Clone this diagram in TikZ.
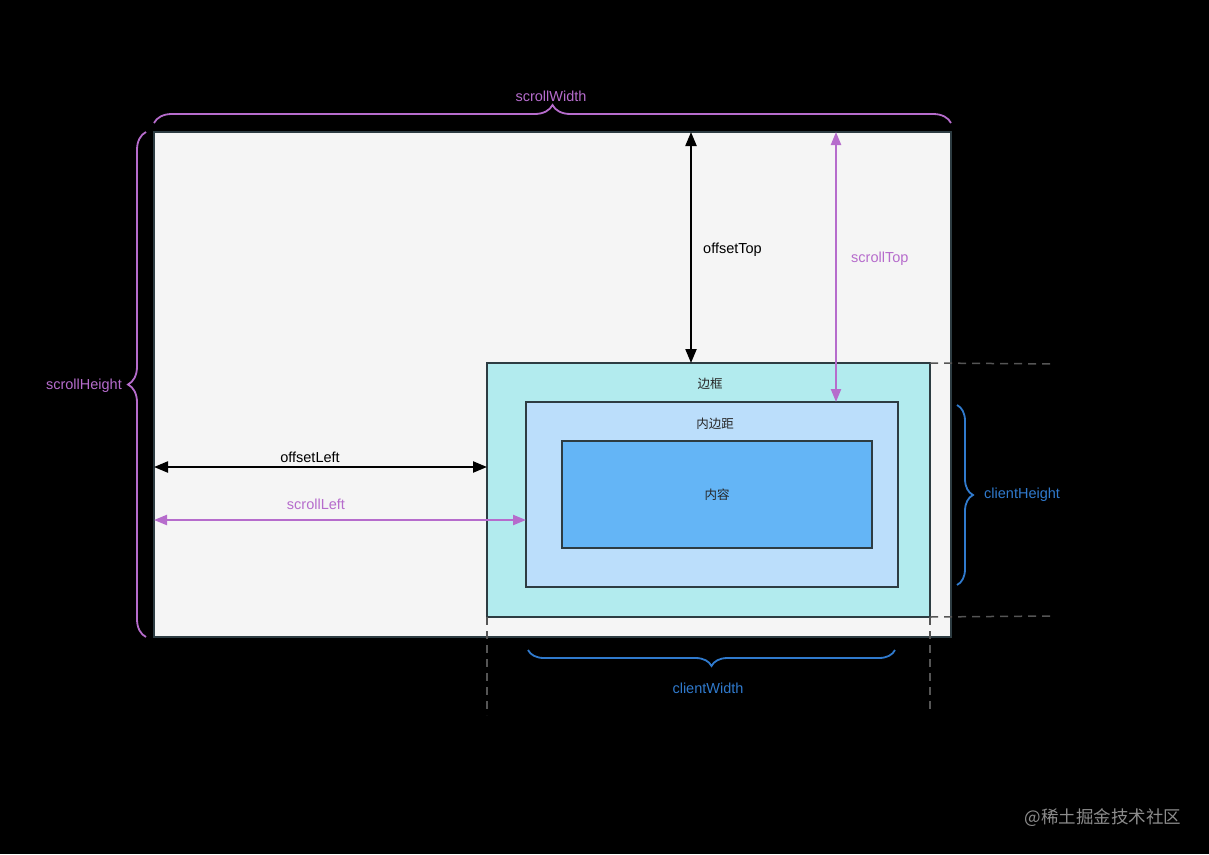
\documentclass[tikz,border=0pt]{standalone}
\usepackage{fontspec}
\setmainfont{Liberation Sans}
\newfontfamily\cjk{Noto Sans CJK SC}
\usetikzlibrary{arrows.meta,decorations.pathreplacing}
\definecolor{purp}{RGB}{182,108,204}
\definecolor{cblue}{RGB}{48,122,205}
\definecolor{edge}{RGB}{45,60,66}
\definecolor{scrollbg}{RGB}{245,245,245}
\definecolor{borderbg}{RGB}{178,235,238}
\definecolor{padbg}{RGB}{187,222,251}
\definecolor{contentbg}{RGB}{100,181,246}
\definecolor{dashc}{RGB}{85,85,85}
\tikzset{
  box/.style={draw=edge, line width=2pt, inner sep=0pt, outer sep=0pt, anchor=north west},
  lbl/.style={font=\fontsize{14.5}{17}\selectfont, inner sep=1pt},
  cjklbl/.style={font=\cjk\fontsize{12.5}{15}\selectfont, text=black!85, inner sep=1pt},
  blackarr/.style={line width=2.2pt, {Triangle[width=11pt,length=14pt]}-{Triangle[width=11pt,length=14pt]}},
  purparr/.style={purp, line width=2.2pt, {Triangle[width=10pt,length=13pt]}-{Triangle[width=10pt,length=13pt]}},
  pbrace/.style={purp, line width=1.8pt, decorate, decoration={brace, amplitude=18pt}},
  bbrace/.style={cblue, line width=1.8pt, decorate, decoration={brace, amplitude=16pt}},
  dashline/.style={dashc, line width=1.5pt, dash pattern=on 8pt off 6pt}
}
\begin{document}
\begin{tikzpicture}[x=1pt,y=-1pt]
\fill[black] (0,0) rectangle (1209,854);
\useasboundingbox (0,0) rectangle (1209,854);

% boxes
\node[box, fill=scrollbg, minimum width=797pt, minimum height=505pt] (scroll) at (154,132) {};
\node[box, fill=borderbg, minimum width=443pt, minimum height=254pt] (border) at (487,363) {};
\node[box, fill=padbg, minimum width=372pt, minimum height=185pt] (pad) at (526,402) {};
\node[box, fill=contentbg, minimum width=310pt, minimum height=107pt] (content) at (562,441) {};

\node[cjklbl] (lborder) at (710,384) {边框};
\node[cjklbl] (lpad) at (715,424) {内边距};
\node[cjklbl] (lcontent) at (717,495) {内容};

% dashed guide lines
\coordinate (dh1) at (1055,364);
\coordinate (dh2) at (1050,616);
\coordinate (dv1) at (487,715);
\coordinate (dv2) at (930,710);
\draw[dashline] (border.north east) -- (dh1);
\draw[dashline] (border.south east) -- (dh2);
\draw[dashline] (border.south west) -- (dv1);
\draw[dashline] (border.south east) -- (dv2);

% arrows
\coordinate (ot) at (691,0);
\coordinate (st) at (836,0);
\coordinate (ol) at (0,467);
\coordinate (sl) at (0,520);
\draw[blackarr] (ot |- scroll.north) -- (ot |- border.north);
\draw[purparr] (st |- scroll.north) -- (st |- pad.north);
\draw[blackarr] (ol -| scroll.west) -- (ol -| border.west);
\draw[purparr] (sl -| scroll.west) -- (sl -| pad.west);

\node[lbl, anchor=west] (lot) at (702,250) {offsetTop};
\node[lbl, anchor=west, text=purp] (lst) at (850,259) {scrollTop};
\node[lbl] (lol) at (310,457) {offsetLeft};
\node[lbl, text=purp] (lsl) at (316,504) {scrollLeft};

% braces
\coordinate (bw1) at (154,123);
\coordinate (bw2) at (951,123);
\draw[pbrace] (bw1) -- (bw2);
\node[lbl, text=purp] (lsw) at (551,96) {scrollWidth};

\coordinate (bh1) at (146,637);
\coordinate (bh2) at (146,132);
\draw[pbrace] (bh1) -- (bh2);
\node[lbl, anchor=east, text=purp] (lsh) at (123,386) {scrollHeight};

\coordinate (ch1) at (957,405);
\coordinate (ch2) at (957,585);
\draw[bbrace] (ch1) -- (ch2);
\node[lbl, anchor=west, text=cblue] (lch) at (983,495) {clientHeight};

\coordinate (cw1) at (895,650);
\coordinate (cw2) at (528,650);
\draw[bbrace] (cw1) -- (cw2);
\node[lbl, text=cblue] (lcw) at (708,688) {clientWidth};

% watermark
\node[font=\cjk\fontsize{17.5}{20}\selectfont, text=black!45, anchor=east] (wm) at (1185,818) {@稀土掘金技术社区};
\end{tikzpicture}
\end{document}
